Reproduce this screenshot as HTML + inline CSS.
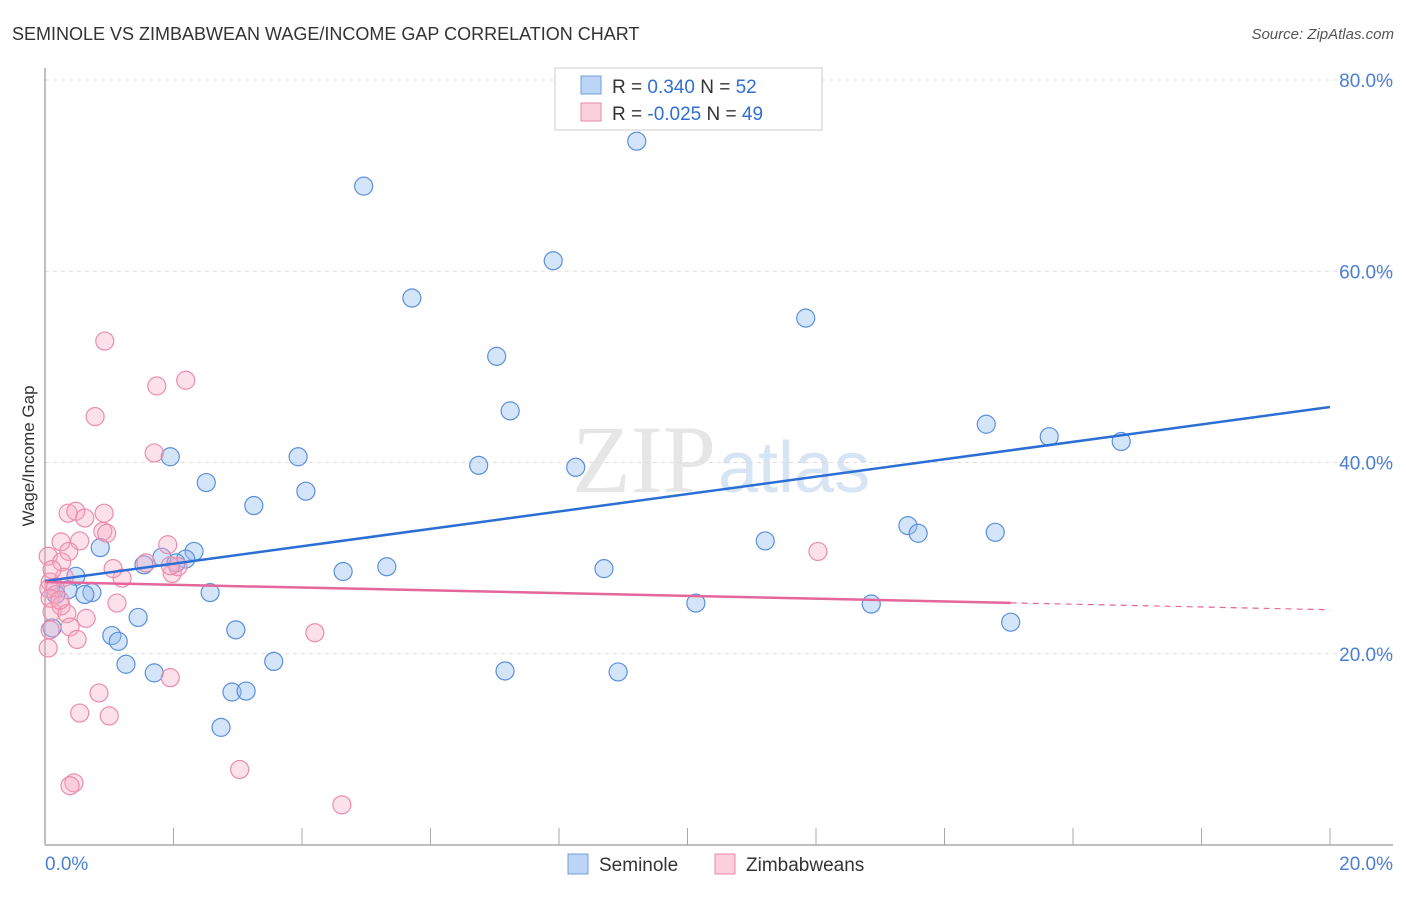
<!DOCTYPE html>
<html><head><meta charset="utf-8"><style>
body{margin:0;background:#fff;font-family:"Liberation Sans",sans-serif}
</style></head><body>
<svg id="chart" width="1406" height="892" xmlns="http://www.w3.org/2000/svg" font-family="Liberation Sans, sans-serif">
<text x="12" y="40" font-size="18" fill="#333">SEMINOLE VS ZIMBABWEAN WAGE/INCOME GAP CORRELATION CHART</text>
<text x="1394" y="39" font-size="15" fill="#555" font-style="italic" text-anchor="end">Source: ZipAtlas.com</text>
<text x="716" y="492" font-size="96" fill="#e6e6e6" text-anchor="end" font-family="Liberation Serif, serif">ZIP</text>
<text x="718" y="492" font-size="72" fill="#d6e4f4">atlas</text>
<g id="grid"></g><g id="axes"></g><g id="marks"></g>
<text transform="translate(34,456) rotate(-90)" font-size="17" fill="#333" text-anchor="middle">Wage/Income Gap</text>
<g>
<rect x="555" y="68" width="267" height="62" fill="#fff" stroke="#ccc"/>
<rect x="581" y="76" width="20" height="18" fill="#bcd4f5" stroke="#6f9fe0"/>
<rect x="581" y="103" width="20" height="18" fill="#fbcfdc" stroke="#ee8aa8"/>
<text x="612" y="93" font-size="19" fill="#333">R =  <tspan fill="#2f6fd4">0.340</tspan>   N =  <tspan fill="#2f6fd4">52</tspan></text>
<text x="612" y="120" font-size="19" fill="#333">R = <tspan fill="#2f6fd4">-0.025</tspan>   N =  <tspan fill="#2f6fd4">49</tspan></text>
</g>
<g>
<rect x="568" y="854" width="20" height="20" fill="#bcd4f5" stroke="#6f9fe0"/>
<text x="599" y="871" font-size="19" fill="#333">Seminole</text>
<rect x="715" y="854" width="20" height="20" fill="#fbcfdc" stroke="#ee8aa8"/>
<text x="746" y="871" font-size="19" fill="#333">Zimbabweans</text>
</g>
</svg>
<script>
const blueX=[9.21,4.96,7.91,5.71,11.84,7.03,7.24,14.65,15.63,16.75,1.95,3.94,6.75,8.26,2.51,4.06,3.25,13.43,13.59,14.79,11.21,0.86,2.32,1.82,2.19,1.54,2.04,4.64,5.32,8.70,0.48,0.36,0.73,0.62,2.57,0.17,1.45,10.13,12.86,1.04,1.14,2.97,15.03,0.11,1.26,3.56,1.70,7.16,8.92,2.91,3.13,2.74];
const blueY=[73.6,68.9,61.1,57.2,55.1,51.1,45.4,44.0,42.7,42.2,40.6,40.6,39.7,39.5,37.9,37.0,35.5,33.4,32.6,32.7,31.8,31.1,30.7,30.1,29.9,29.3,29.5,28.6,29.1,28.9,28.1,26.7,26.4,26.2,26.4,26.2,23.8,25.3,25.2,21.9,21.3,22.5,23.3,22.7,18.9,19.2,18.0,18.2,18.1,16.0,16.1,12.3];
const pinkX=[0.93,2.19,1.74,0.78,1.70,0.36,0.48,0.92,0.62,0.90,0.96,0.25,0.54,0.05,0.37,0.26,0.30,0.08,0.06,0.16,0.08,0.25,0.11,0.34,0.64,0.39,0.50,1.20,1.06,1.57,1.98,1.91,2.07,1.95,1.12,0.05,4.20,12.03,0.84,0.54,1.00,1.95,3.03,0.45,0.39,4.62,0.08,0.23,0.11];
const pinkY=[52.7,48.6,48.0,44.8,41.0,34.7,34.9,34.7,34.2,32.8,32.6,31.7,31.8,30.2,30.7,29.6,28.0,27.5,26.8,26.9,25.8,25.0,24.4,24.2,23.7,22.8,21.5,27.9,28.9,29.5,28.4,31.4,29.1,29.2,25.3,20.6,22.2,30.7,15.9,13.8,13.5,17.5,7.9,6.5,6.2,4.2,22.5,25.6,28.8];
const blueTrend=[27.6,45.8];
const pinkTrend=[27.5,24.6];
const pinkSolidEnd=15.03;
const yTicks=[20,40,60,80];
const yTickLabels=["20.0%","40.0%","60.0%","80.0%"];
const xTicks=[0,2,4,6,8,10,12,14,16,18,20];
const NS="http://www.w3.org/2000/svg";
const X=v=>45+v/20*1285, Y=v=>845-v/80*765;
function mk(p,t,a){const e=document.createElementNS(NS,t);for(const k in a)e.setAttribute(k,a[k]);document.getElementById(p).appendChild(e);return e;}
yTicks.forEach((t,i)=>{
 const l=mk('grid','line',{x1:45,x2:1393,y1:Y(t),y2:Y(t),stroke:'#ddd','stroke-dasharray':'4,4'});
 
 
 const tx=mk('grid','text',{x:1393,y:Y(t)+7,'font-size':19,fill:'#4a7fd4','text-anchor':'end'});
 tx.textContent=yTickLabels[i];
 
 
});
const ax=mk('axes','line',{x1:45,x2:45,y1:68,y2:845,stroke:'#aaa','stroke-width':1.5});


const bx=mk('axes','line',{x1:45,x2:1393,y1:845,y2:845,stroke:'#aaa','stroke-width':1.5});


xTicks.forEach(t=>{const l=mk('axes','line',{x1:X(t),x2:X(t),y1:828,y2:845,stroke:'#aaa'});
 
 });
const xl0=mk('axes','text',{x:45,y:870,'font-size':19,fill:'#4a7fd4'});xl0.textContent='0.0%';


const xl1=mk('axes','text',{x:1393,y:870,'font-size':19,fill:'#4a7fd4','text-anchor':'end'});xl1.textContent='20.0%';


blueX.forEach((v,i)=>{const c=mk('marks','circle',{cx:X(v),cy:Y(blueY[i]),r:9,fill:'rgba(150,190,240,0.4)',stroke:'#5a8fdc','stroke-width':1.2});
 
 });
pinkX.forEach((v,i)=>{const c=mk('marks','circle',{cx:X(v),cy:Y(pinkY[i]),r:9,fill:'rgba(248,170,195,0.35)',stroke:'#ec8cab','stroke-width':1.2});
 
 });
const bt=mk('marks','line',{x1:X(0),y1:Y(blueTrend[0]),x2:X(20),y2:Y(blueTrend[1]),stroke:'#2b6fd6','stroke-width':2.5});


const pm=pinkTrend[0]+(pinkTrend[1]-pinkTrend[0])*pinkSolidEnd/20;
const pt=mk('marks','line',{x1:X(0),y1:Y(pinkTrend[0]),x2:X(pinkSolidEnd),y2:Y(pm),stroke:'#e5669a','stroke-width':2.5});


const pd=mk('marks','line',{x1:X(pinkSolidEnd),y1:Y(pm),x2:X(20),y2:Y(pinkTrend[1]),stroke:'#e5669a','stroke-width':1.2,'stroke-dasharray':'6,5'});


</script>
</body></html>
